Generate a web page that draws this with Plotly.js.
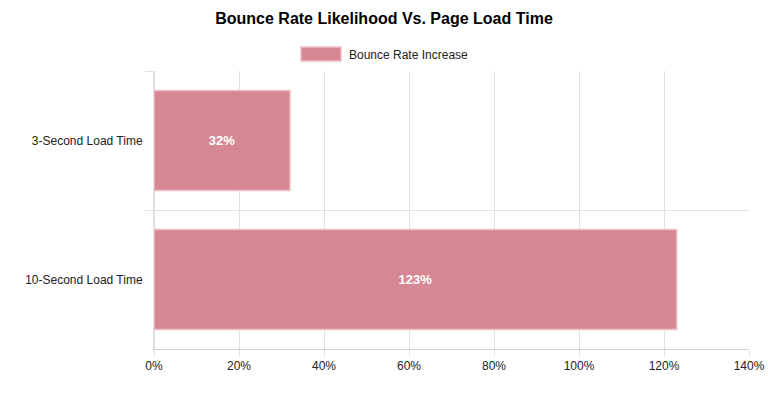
<!DOCTYPE html>
<html>
<head>
<meta charset="utf-8">
<script src="https://cdn.plot.ly/plotly-3.0.1.min.js"></script>
<style>
  html, body { margin: 0; padding: 0; background: #fff; }
  #chart { width: 768px; height: 400px; }
</style>
</head>
<body>
<div id="chart"></div>
<script>
// chart data
const loadTimes = ['3-Second Load Time', '10-Second Load Time'];
const bounceIncrease = [32, 123];
const seriesName = 'Bounce Rate Increase';
const xTicks = [0, 20, 40, 60, 80, 100, 120, 140];

const gridColor = '#e1e1e1';
const barColor = 'rgba(213,136,147,1)';
const barBorder = 'rgba(236,190,197,1)';
const fontFamily = 'Liberation Sans, Arial, sans-serif';

// plot area in pixels
const W = 768, H = 400;
const M = { l: 154, r: 19, t: 71, b: 51 };
const plotW = W - M.l - M.r, plotH = H - M.t - M.b;
const px = x => (x - M.l) / plotW;
const py = y => (H - M.b - y) / plotH;

let traces = [{
  type: 'bar',
  orientation: 'h',
  name: seriesName,
  x: bounceIncrease,
  y: loadTimes,
  marker: { color: barColor, line: { color: barBorder, width: 1.5 } },
  text: bounceIncrease.map(v => v + '%'),
  texttemplate: '%{text}',
  textposition: 'inside',
  insidetextanchor: 'middle',
  textangle: 0,
  textfont: { color: '#ffffff', size: 13, family: fontFamily, weight: 'bold' },
  hoverinfo: 'x+y',
  showlegend: false
}];

let layout = {
  width: W,
  height: H,
  paper_bgcolor: '#ffffff',
  plot_bgcolor: '#ffffff',
  font: { family: fontFamily, size: 12, color: '#222' },
  title: {
    text: '<b>Bounce Rate Likelihood Vs. Page Load Time</b>',
    font: { size: 16, color: '#000', family: fontFamily },
    x: 0.5,
    xanchor: 'center',
    y: 0.955,
    yanchor: 'middle'
  },
  showlegend: false,
  // chart.js style legend: wide swatch + label, centred on the page
  shapes: [{
    type: 'rect',
    xref: 'paper', yref: 'paper',
    x0: px(301), x1: px(341), y0: py(61), y1: py(47),
    fillcolor: barColor,
    line: { color: barBorder, width: 1.5 }
  }],
  annotations: [{
    xref: 'paper', yref: 'paper',
    x: px(347), y: py(55),
    xanchor: 'left', yanchor: 'middle',
    text: seriesName,
    showarrow: false,
    font: { size: 12, color: '#222', family: fontFamily }
  }],
  margin: { l: M.l, r: M.r, t: M.t, b: M.b, pad: 0, autoexpand: false },
  bargap: 0.28,
  xaxis: {
    range: [0, 140],
    tickmode: 'array',
    tickvals: xTicks,
    ticktext: xTicks.map(v => v + '%'),
    tickangle: 0,
    showgrid: true,
    gridcolor: gridColor,
    gridwidth: 1,
    zeroline: true,
    zerolinecolor: gridColor,
    showline: true,
    linecolor: '#cfcfcf',
    ticks: 'outside',
    ticklen: 6,
    tickcolor: gridColor,
    tickfont: { size: 12, color: '#222' },
    fixedrange: true
  },
  yaxis: {
    type: 'category',
    autorange: 'reversed',
    tickson: 'boundaries',
    showgrid: true,
    gridcolor: gridColor,
    gridwidth: 1,
    showline: true,
    linecolor: gridColor,
    ticks: 'outside',
    ticklen: 8,
    tickcolor: gridColor,
    ticklabelstandoff: 8,
    tickfont: { size: 12, color: '#222' },
    fixedrange: true
  }
};

Plotly.newPlot('chart', traces, layout, { displayModeBar: false, responsive: false });
</script>
</body>
</html>
